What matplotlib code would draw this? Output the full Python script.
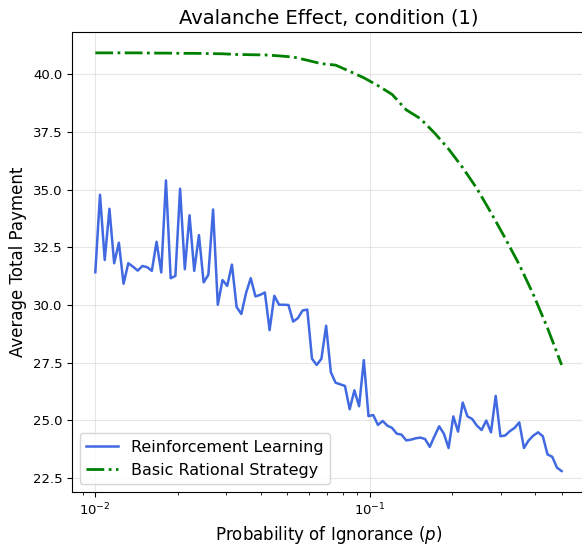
import numpy as np
import matplotlib
matplotlib.use("Agg")
import matplotlib.pyplot as plt

# probability grid (100 log-spaced points from 0.01 to 0.5)
p = np.geomspace(0.01, 0.5, 100)

# reinforcement learning result
rl_payment = [
    31.42, 34.78, 31.95, 34.17, 31.81, 32.70, 30.92, 31.81, 31.66, 31.49,
    31.69, 31.64, 31.48, 32.74, 31.41, 35.40, 31.16, 31.26, 35.04, 31.55,
    33.89, 31.48, 33.03, 30.98, 31.31, 34.14, 30.01, 31.08, 30.83, 31.75,
    29.91, 29.61, 30.52, 31.16, 30.37, 30.44, 30.54, 28.91, 30.40, 30.01,
    30.01, 30.00, 29.28, 29.43, 29.76, 29.80, 27.67, 27.40, 27.67, 29.10,
    27.09, 26.63, 26.56, 26.49, 25.48, 26.30, 25.61, 27.61, 25.18, 25.23,
    24.80, 24.97, 24.77, 24.67, 24.42, 24.38, 24.13, 24.16, 24.22, 24.25,
    24.19, 23.85, 24.31, 24.74, 24.42, 23.80, 25.17, 24.51, 25.77, 25.17,
    25.06, 24.77, 24.58, 24.99, 24.48, 26.06, 24.31, 24.34, 24.53, 24.67,
    24.91, 23.80, 24.13, 24.34, 24.48, 24.31, 23.52, 23.42, 22.95, 22.80,
]

# basic rational strategy, evaluated on every third grid point
p_rational = p[::3]
rational_payment = [
    40.93, 40.93, 40.93, 40.93, 40.92, 40.92, 40.91, 40.91, 40.90, 40.89,
    40.86, 40.85, 40.84, 40.80, 40.75, 40.61, 40.46, 40.40, 40.13, 39.85,
    39.51, 39.13, 38.46, 38.08, 37.46, 36.76, 35.95, 35.05, 34.00, 32.90,
    31.75, 30.45, 29.00, 27.40,
]

fig = plt.figure(figsize=(5.82, 5.5), dpi=100)
ax = fig.add_axes([0.1237, 0.1055, 0.8814, 0.8364])

ax.plot(p, rl_payment, color="royalblue", linewidth=1.8, label="Reinforcement Learning")
ax.plot(p_rational, rational_payment, color="green", linestyle="-.", linewidth=2,
        label="Basic Rational Strategy")

ax.set_xscale("log")
ax.set_xlabel("Probability of Ignorance ($p$)", fontsize=12)
ax.set_ylabel("Average Total Payment", fontsize=12)
ax.set_title("Avalanche Effect, condition (1)", fontsize=14)
ax.tick_params(labelsize=9.5)
ax.grid(True, alpha=0.3)
ax.legend(loc="lower left", fontsize=11.5)

fig.savefig("out.png", dpi=100)
